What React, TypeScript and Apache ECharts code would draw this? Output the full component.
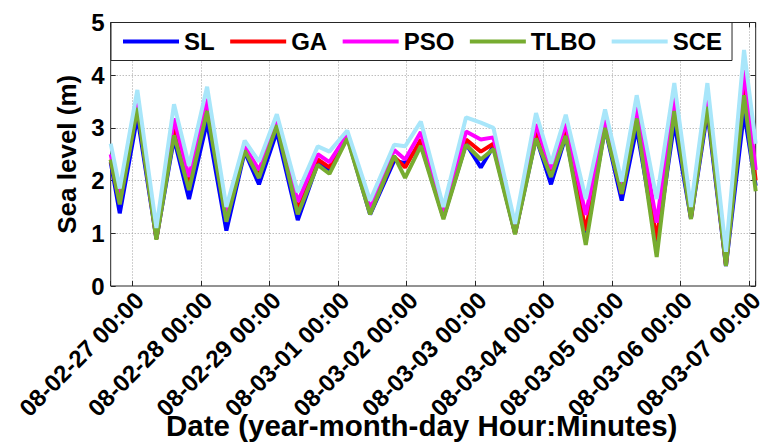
import { useEffect, useRef } from 'react';
import * as echarts from 'echarts';

// sample times (tide turning points)
const times = [
  '2008-02-26 16:25', '2008-02-26 19:35', '2008-02-27 01:45', '2008-02-27 08:25',
  '2008-02-27 14:35', '2008-02-27 19:50', '2008-02-28 02:10', '2008-02-28 08:55',
  '2008-02-28 15:20', '2008-02-28 20:20', '2008-02-29 02:35', '2008-02-29 09:55',
  '2008-02-29 16:55', '2008-02-29 21:00', '2008-03-01 03:15', '2008-03-01 11:15',
  '2008-03-01 19:40', '2008-03-01 23:30', '2008-03-02 05:00', '2008-03-02 12:55',
  '2008-03-02 20:50', '2008-03-03 02:00', '2008-03-03 06:25', '2008-03-03 14:00',
  '2008-03-03 21:20', '2008-03-04 02:35', '2008-03-04 07:45', '2008-03-04 14:45',
  '2008-03-04 21:30', '2008-03-05 03:20', '2008-03-05 08:35', '2008-03-05 15:35',
  '2008-03-05 21:45', '2008-03-06 03:35', '2008-03-06 09:20', '2008-03-06 15:50',
  '2008-03-06 22:10', '2008-03-07 02:15',
];

const slValues = [2.35, 1.38, 3.22, 0.9, 2.8, 1.65, 3.12, 1.05, 2.55, 1.93, 2.93, 1.25, 2.33, 2.2, 2.83, 1.36, 2.38, 2.33, 2.7, 1.3, 2.7, 2.25, 2.65, 1.0, 2.82, 1.93, 2.85, 0.95, 3.0, 1.62, 3.0, 0.8, 3.1, 1.28, 3.3, 0.38, 3.3, 1.9];
const gaValues = [2.4, 1.58, 3.42, 0.9, 2.98, 1.95, 3.42, 1.28, 2.6, 2.1, 3.08, 1.45, 2.4, 2.25, 2.85, 1.4, 2.45, 2.25, 2.78, 1.3, 2.78, 2.55, 2.7, 1.0, 2.92, 2.12, 2.95, 1.05, 3.05, 1.75, 3.25, 0.87, 3.4, 1.3, 3.45, 0.4, 3.85, 2.0];
const psoValues = [2.5, 1.68, 3.5, 0.92, 3.18, 2.07, 3.55, 1.33, 2.65, 2.2, 3.14, 1.6, 2.5, 2.35, 2.88, 1.47, 2.58, 2.4, 2.92, 1.38, 2.93, 2.78, 2.82, 1.02, 3.07, 2.22, 3.08, 1.35, 3.15, 1.78, 3.4, 1.2, 3.58, 1.35, 3.55, 0.45, 4.1, 2.2];
const tlboValues = [2.4, 1.55, 3.38, 0.88, 2.86, 1.82, 3.32, 1.22, 2.57, 2.05, 3.05, 1.36, 2.3, 2.13, 2.8, 1.36, 2.47, 2.05, 2.66, 1.27, 2.68, 2.4, 2.6, 0.98, 2.8, 2.07, 2.85, 0.78, 3.0, 1.75, 3.18, 0.55, 3.32, 1.27, 3.4, 0.38, 3.62, 1.8];
const sceValues = [2.7, 1.85, 3.72, 1.1, 3.45, 2.28, 3.78, 1.5, 2.76, 2.36, 3.26, 1.78, 2.65, 2.55, 2.95, 1.62, 2.68, 2.65, 3.12, 1.5, 3.2, 3.1, 3.0, 1.18, 3.28, 2.32, 3.25, 1.65, 3.35, 1.98, 3.62, 1.65, 3.85, 1.5, 3.85, 0.65, 4.48, 2.7];

const seriesNames = ['SL', 'GA', 'PSO', 'TLBO', 'SCE'];
const seriesColors = ['#0000ff', '#ff0000', '#ff00ff', '#77ac30', '#a8e6fa'];

const FONT = "'Liberation Sans', Arial, Helvetica, sans-serif";
const AXIS_COLOR = '#262626';
const GRID_COLOR = '#a0a0a0';
// x is counted in hours from 08-02-26 00:00, so the axis range never holds 0
const ORIGIN = Date.UTC(2008, 1, 26, 0, 0);

function toHours(s: string) {
  const [d, t] = s.split(' ');
  const [y, m, day] = d.split('-').map(Number);
  const [hh, mm] = t.split(':').map(Number);
  return (Date.UTC(y, m - 1, day, hh, mm) - ORIGIN) / 3600000;
}

const pad = (n: number) => String(n).padStart(2, '0');

function formatTick(h: number) {
  if (Math.abs(h % 24) > 1e-6) return '';
  const d = new Date(ORIGIN + h * 3600000);
  return `${pad(d.getUTCFullYear() % 100)}-${pad(d.getUTCMonth() + 1)}-${pad(d.getUTCDate())} ${pad(d.getUTCHours())}:${pad(d.getUTCMinutes())}`;
}

export default function App() {
  const chartRef = useRef<HTMLDivElement>(null);

  useEffect(() => {
    if (!chartRef.current) return;
    const chart = echarts.init(chartRef.current, undefined, { renderer: 'svg' });

    const xs = times.map(toHours);
    const xMin = xs[0];
    const xMax = xs[xs.length - 1];
    const allValues = [slValues, gaValues, psoValues, tlboValues, sceValues];

    const option: any = {
      animation: false,
      backgroundColor: '#fff',
      textStyle: { fontFamily: FONT },
      grid: [
        {
          left: 110.7, top: 22.5, right: 10.3, bottom: 159,
          show: true, borderColor: AXIS_COLOR, borderWidth: 1, outerBoundsMode: 'none',
        },
        // second grid, nudged right, only carries the rotated date labels
        { left: 117.7, top: 22.5, right: 3.3, bottom: 159, outerBoundsMode: 'none' },
      ],
      legend: {
        data: seriesNames,
        left: 111,
        top: 22.5,
        icon: 'rect',
        itemWidth: 56,
        itemHeight: 4,
        itemGap: 15.5,
        padding: [7, 10, 7, 12],
        backgroundColor: '#fff',
        borderColor: AXIS_COLOR,
        borderWidth: 1,
        z: 10,
        textStyle: { fontSize: 24, fontWeight: 'bold', color: '#000' },
      },
      xAxis: [
        {
          type: 'value', gridIndex: 0, min: xMin, max: xMax, minInterval: 24, maxInterval: 24,
          axisLine: { show: false, onZero: false },
          axisTick: { inside: true, length: 5, lineStyle: { color: AXIS_COLOR } },
          axisLabel: { show: false },
          splitLine: { show: false },
          name: 'Date (year-month-day Hour:Minutes)',
          nameLocation: 'middle',
          nameGap: 124,
          nameTextStyle: { fontSize: 29.5, fontWeight: 'bold', color: '#000', padding: [0, 23, 0, 0] },
        },
        {
          type: 'value', gridIndex: 0, position: 'top', min: xMin, max: xMax, minInterval: 24, maxInterval: 24,
          axisLine: { show: false, onZero: false },
          axisTick: { inside: true, length: 5, lineStyle: { color: AXIS_COLOR } },
          axisLabel: { show: false },
          splitLine: { show: true, showMinLine: false, showMaxLine: false, lineStyle: { type: [1, 2], color: GRID_COLOR, width: 1 } },
        },
        {
          type: 'value', gridIndex: 1, min: xMin, max: xMax, minInterval: 24, maxInterval: 24,
          axisLine: { show: false, onZero: false },
          axisTick: { show: false },
          splitLine: { show: false },
          axisLabel: {
            rotate: 45, margin: 10, fontSize: 24, fontWeight: 'bold', color: '#000',
            showMinLabel: false, showMaxLabel: false,
            formatter: (v: number) => formatTick(v),
          },
        },
      ],
      yAxis: [
        {
          type: 'value', gridIndex: 0, min: 0, max: 5, interval: 1,
          axisLine: { show: false, onZero: false },
          axisTick: { inside: true, length: 5, lineStyle: { color: AXIS_COLOR } },
          axisLabel: { fontSize: 24, fontWeight: 'bold', color: '#000', margin: 6 },
          splitLine: { show: true, showMinLine: false, showMaxLine: false, lineStyle: { type: [1, 2], color: GRID_COLOR, width: 1 } },
          name: 'Sea level (m)',
          nameLocation: 'middle',
          nameRotate: 90,
          nameGap: 28,
          nameTextStyle: { fontSize: 26, fontWeight: 'bold', color: '#000' },
        },
        {
          type: 'value', gridIndex: 0, position: 'right', min: 0, max: 5, interval: 1,
          axisLine: { show: false, onZero: false },
          axisTick: { inside: true, length: 5, lineStyle: { color: AXIS_COLOR } },
          axisLabel: { show: false },
          splitLine: { show: false },
        },
        {
          type: 'value', gridIndex: 1, min: 0, max: 5, show: false,
          axisLine: { show: false, onZero: false },
          axisTick: { show: false },
          axisLabel: { show: false },
          splitLine: { show: false },
        },
      ],
      series: seriesNames.map((name, i) => ({
        name,
        type: 'line',
        data: xs.map((x, j) => [x, allValues[i][j]]),
        symbol: 'none',
        color: seriesColors[i],
        lineStyle: { color: seriesColors[i], width: 4 },
        z: 2,
      })),
    };

    chart.setOption(option);

    return () => {
      chart.dispose();
    };
  }, []);

  return (
    <div
      ref={chartRef}
      style={{ position: 'absolute', left: 0, top: 0, width: 766, height: 445 }}
    />
  );
}
